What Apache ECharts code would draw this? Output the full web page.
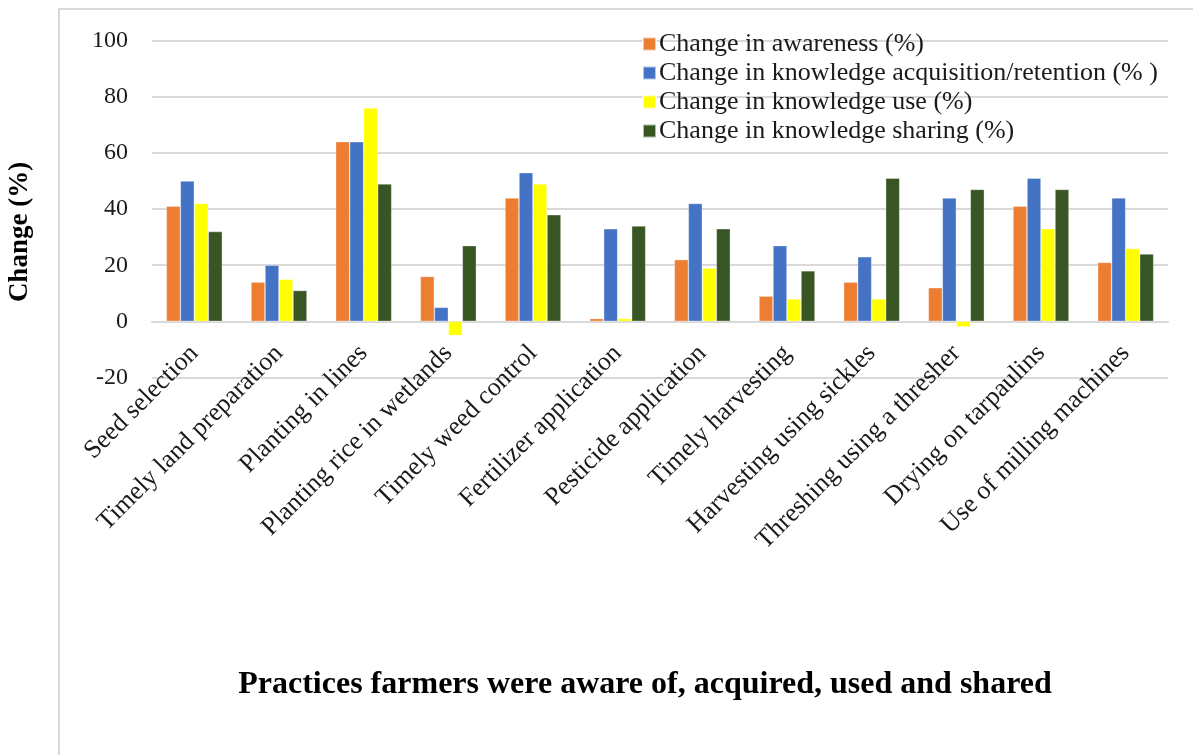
<!DOCTYPE html>
<html>
<head>
<meta charset="utf-8">
<script src="https://cdn.jsdelivr.net/npm/echarts@6/dist/echarts.min.js"></script>
<style>
html,body{margin:0;padding:0;background:#fff;overflow:hidden;}
#frame{position:absolute;left:58px;top:8px;width:1200px;height:800px;border-left:2px solid #d9d9d9;border-top:2px solid #d9d9d9;}
#chart{position:absolute;left:0;top:0;width:1193px;height:755px;}
</style>
</head>
<body>
<div id="frame"></div>
<div id="chart"></div>
<script>
const categories = ["Seed selection","Timely land preparation","Planting in lines","Planting rice in wetlands","Timely weed control","Fertilizer application","Pesticide application","Timely harvesting","Harvesting using sickles","Threshing using a thresher","Drying on tarpaulins","Use of milling machines"];
const awareness = [41,14,64,16,44,1,22,9,14,12,41,21];
const acquisition = [50,20,64,5,53,33,42,27,23,44,51,44];
const knowledgeUse = [42,15,76,-5,49,1,19,8,8,-2,33,26];
const sharing = [32,11,49,27,38,34,33,18,51,47,47,24];
const seriesNames = ["Change in awareness (%)","Change in knowledge acquisition/retention (% )","Change in knowledge use (%)","Change in knowledge sharing (%)"];
const colors = ["#ED7D31","#4472C4","#FFFF00","#375623"];
const yTicks = {min:-20,max:100,interval:20};

const serif = '"Liberation Serif","Times New Roman",serif';
const gridTop = 40.7, gridBottomPx = 377.5;
const plotH = gridBottomPx - gridTop;
const zeroShift = plotH * (0 - yTicks.min) / (yTicks.max - yTicks.min);
const chart = echarts.init(document.getElementById('chart'), null, {renderer:'canvas'});
const dataSets = [awareness, acquisition, knowledgeUse, sharing];
chart.setOption({
  animation:false,
  backgroundColor:'transparent',
  title:{
    text:'Practices farmers were aware of, acquired, used and shared',
    left:640, top:664, textAlign:'center',
    textStyle:{fontFamily:serif,fontWeight:'bold',fontSize:32,color:'#000'}
  },
  graphic:[{
    type:'text', x:20, y:232, rotation:Math.PI/2,
    style:{text:'Change (%)', font:'bold 27px "Liberation Serif", serif', fill:'#000', align:'center', verticalAlign:'middle'}
  }],
  legend:{
    orient:'vertical', left:637, top:26,
    itemWidth:13, itemHeight:13, itemGap:3,
    icon:'rect',
    textStyle:{fontFamily:serif,fontSize:26,lineHeight:24,color:'#1a1a1a',padding:[0,0,0,-2]},
    data:seriesNames
  },
  grid:{left:152,right:25,top:gridTop,bottom:755-gridBottomPx,containLabel:false},
  xAxis:{
    type:'category', data:categories,
    offset:-zeroShift,
    axisLine:{onZero:false,lineStyle:{color:'#d9d9d9',width:2}},
    axisTick:{show:false},
    axisLabel:{interval:0,rotate:45,margin:28,fontFamily:serif,fontSize:26,color:'#1a1a1a'}
  },
  yAxis:{
    type:'value', min:yTicks.min, max:yTicks.max, interval:yTicks.interval,
    axisLine:{show:false}, axisTick:{show:false},
    splitLine:{lineStyle:{color:'#d9d9d9',width:2}},
    axisLabel:{margin:24,fontFamily:serif,fontSize:24,color:'#1a1a1a'}
  },
  series: seriesNames.map((n,i)=>({
    name:n, type:'bar', data:dataSets[i], barWidth:14, barGap:'0%',
    itemStyle:{color:colors[i], borderColor:'rgba(255,255,255,0.6)', borderWidth:0.6}
  }))
});
</script>
</body>
</html>
